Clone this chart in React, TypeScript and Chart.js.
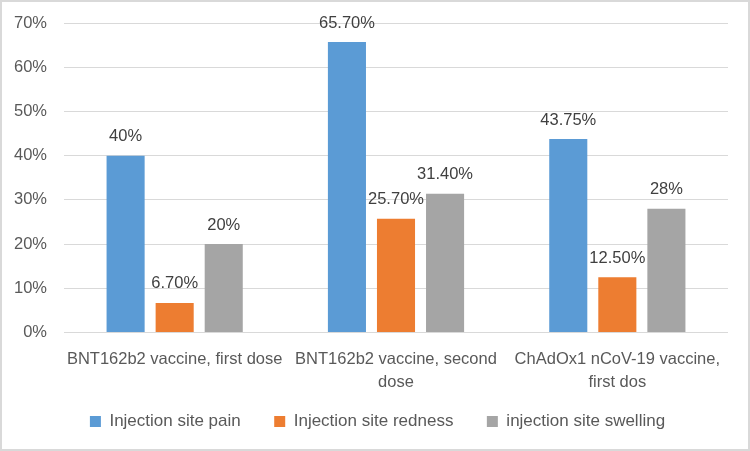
import React, { useEffect, useRef } from 'react';
import { Chart, registerables } from 'chart.js';

Chart.register(...registerables);

const categories: (string | string[])[] = [
  'BNT162b2 vaccine, first dose',
  ['BNT162b2 vaccine, second', 'dose'],
  ['ChAdOx1 nCoV-19 vaccine,', 'first dos'],
];

const seriesNames = ['Injection site pain', 'Injection site redness', 'injection site swelling'];
const painValues = [40, 65.7, 43.75];
const rednessValues = [6.7, 25.7, 12.5];
const swellingValues = [20, 31.4, 28];

const yTicks = [0, 10, 20, 30, 40, 50, 60, 70];

const FONT = '"Liberation Sans", Arial, sans-serif';
const colors = ['#5B9BD5', '#ED7D31', '#A5A5A5'];

const fmt = (v: number) => (Number.isInteger(v) ? `${v}%` : `${v.toFixed(2)}%`);

// percentage labels above each bar
const valueLabels = {
  id: 'valueLabels',
  afterDatasetsDraw(chart: any) {
    const ctx = chart.ctx;
    ctx.save();
    ctx.font = `16.5px ${FONT}`;
    ctx.fillStyle = '#404040';
    ctx.textAlign = 'center';
    ctx.textBaseline = 'middle';
    chart.data.datasets.forEach((ds: any, i: number) => {
      const meta = chart.getDatasetMeta(i);
      meta.data.forEach((bar: any, j: number) => {
        ctx.fillText(fmt(ds.data[j]), bar.x, bar.y - 19);
      });
    });
    ctx.restore();
  },
};

const App: React.FC = () => {
  const canvasRef = useRef<HTMLCanvasElement>(null);

  useEffect(() => {
    document.body.style.margin = '0';
    if (!canvasRef.current) return;
    const chart = new Chart(canvasRef.current, {
      type: 'bar',
      data: {
        labels: categories,
        datasets: [painValues, rednessValues, swellingValues].map((data, i) => ({
          label: seriesNames[i],
          data,
          backgroundColor: colors[i],
          borderWidth: 0,
          categoryPercentage: 0.665,
          barPercentage: 0.776,
        })),
      },
      options: {
        responsive: true,
        maintainAspectRatio: false,
        animation: false,
        layout: { padding: { left: 5, right: 0, top: 21, bottom: 9 } },
        scales: {
          x: {
            grid: { display: false },
            border: { display: false },
            ticks: {
              color: '#595959',
              font: { family: FONT, size: 16.5, lineHeight: 1.4 },
              padding: 7.5,
              maxRotation: 0,
              autoSkip: false,
            },
            afterFit: (scale: any) => {
              scale.height = 56.5;
            },
          },
          y: {
            min: 0,
            max: 70,
            afterBuildTicks: (scale: any) => {
              scale.ticks = yTicks.map((v) => ({ value: v }));
            },
            grid: { color: '#d9d9d9', drawTicks: false },
            border: { display: false },
            ticks: {
              color: '#595959',
              font: { family: FONT, size: 16.5 },
              padding: 17,
              callback: (v: any) => `${v}%`,
            },
            afterFit: (scale: any) => {
              scale.width = 57;
              scale.paddingTop = 0;
              scale.paddingBottom = 0;
            },
          },
          // empty right-hand strip, keeps the plot off the right edge
          yRight: {
            position: 'right',
            grid: { display: false },
            border: { display: false },
            ticks: { display: false },
            afterFit: (scale: any) => {
              scale.width = 20;
              scale.paddingTop = 0;
              scale.paddingBottom = 0;
            },
          },
        },
        plugins: {
          legend: {
            position: 'bottom',
            labels: {
              boxWidth: 11,
              boxHeight: 11,
              padding: 24,
              color: '#595959',
              font: { family: FONT, size: 17 },
              // a little extra room after each name but the last
              generateLabels: (c: any) => {
                const items = Chart.defaults.plugins.legend.labels.generateLabels(c);
                return items.map((item: any, i: number) =>
                  i < items.length - 1 ? { ...item, text: item.text + '  ' } : item
                );
              },
            },
          },
          tooltip: { enabled: false },
        },
      },
      plugins: [valueLabels],
    });
    return () => chart.destroy();
  }, []);

  return (
    <div
      style={{
        width: 750,
        height: 451,
        boxSizing: 'border-box',
        border: '2px solid #d9d9d9',
        background: '#fff',
        position: 'relative',
      }}
    >
      <canvas ref={canvasRef} />
    </div>
  );
};

export default App;
